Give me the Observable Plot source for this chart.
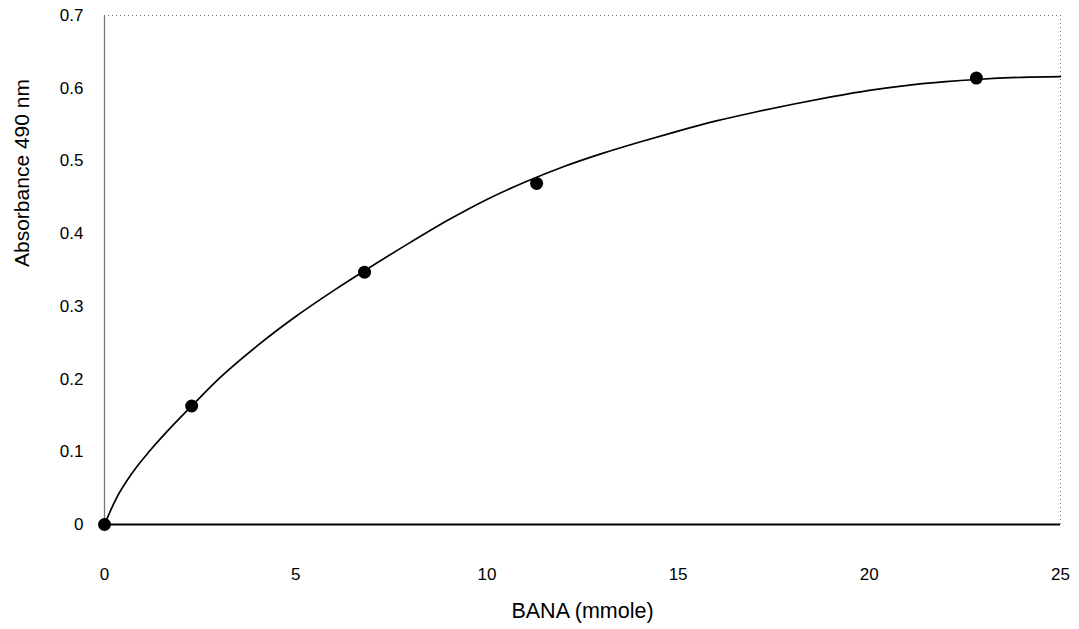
<!DOCTYPE html>
<html>
<head>
<meta charset="utf-8">
<script src="https://cdn.jsdelivr.net/npm/d3@7"></script>
<script src="https://cdn.jsdelivr.net/npm/@observablehq/plot@0.6"></script>
<style>
  html, body { margin: 0; padding: 0; background: #fff; }
  #chart svg { display: block; }
</style>
</head>
<body>
<div id="chart"></div>
<script>
// Measured absorbance at 490 nm for each BANA amount
const banaAmount = [0, 2.28, 6.8, 11.3, 22.8];
const absorbance = [0, 0.163, 0.347, 0.469, 0.614];

// Fitted trend line, sampled along the curve
const fitX = [0, 0.3, 0.74, 1.18, 1.62, 2.28, 3, 4, 5, 6, 6.8, 8, 9, 10, 11, 12, 13, 14, 15, 16, 17, 18, 19, 20, 21, 22, 22.8, 24, 25];
const fitY = [0, 0.035, 0.072, 0.101, 0.127, 0.163, 0.201, 0.246, 0.286, 0.322, 0.349, 0.388, 0.419, 0.447, 0.471, 0.492, 0.510, 0.526, 0.541, 0.555, 0.567, 0.578, 0.588, 0.597, 0.604, 0.609, 0.612, 0.615, 0.616];

// Axis ticks
const xTicks = [0, 5, 10, 15, 20, 25];
const yTicks = [0, 0.1, 0.2, 0.3, 0.4, 0.5, 0.6, 0.7];

const xLabel = "BANA (mmole)";
const yLabel = "Absorbance 490 nm";

const points = banaAmount.map((x, i) => ({x, y: absorbance[i]}));
const fit = fitX.map((x, i) => ({x, y: fitY[i]}));

const font = "Liberation Sans, Arial, Helvetica, sans-serif";

const chart = Plot.plot({
  width: 1079,
  height: 629,
  marginLeft: 104,
  marginRight: 19,
  marginTop: 15,
  marginBottom: 105,
  style: {fontFamily: font, fontSize: "17px", color: "#000", background: "#fff"},
  x: {domain: [0, 25]},
  y: {domain: [0, 0.7]},
  marks: [
    // plot area border: dotted top and right, grey left, black baseline
    Plot.ruleY([0.7], {stroke: "#777", strokeWidth: 1, strokeDasharray: "1,3"}),
    Plot.ruleX([25], {stroke: "#777", strokeWidth: 1, strokeDasharray: "1,3"}),
    Plot.ruleX([0], {stroke: "#777", strokeWidth: 1.3}),
    Plot.axisX({ticks: xTicks, tickSize: 0, tickPadding: 43, tickFormat: d => String(d), label: null, fontSize: 17}),
    Plot.axisY({ticks: yTicks, tickSize: 0, tickPadding: 21, tickFormat: d => String(d), label: null, fontSize: 17}),
    Plot.line(fit, {x: "x", y: "y", curve: "monotone-x", stroke: "#000", strokeWidth: 1.7}),
    Plot.ruleY([0], {stroke: "#000", strokeWidth: 1.8}),
    Plot.dot(points, {x: "x", y: "y", r: 6.5, fill: "#000", stroke: "none"}),
    Plot.text([xLabel], {frameAnchor: "bottom", dy: 87, lineAnchor: "middle", fontSize: 21.5, fill: "#000"}),
    Plot.text([yLabel], {frameAnchor: "left", dx: -82, dy: -3, rotate: -90, lineAnchor: "middle", fontSize: 21, fill: "#000"})
  ]
});

document.getElementById("chart").appendChild(chart);
</script>
</body>
</html>
